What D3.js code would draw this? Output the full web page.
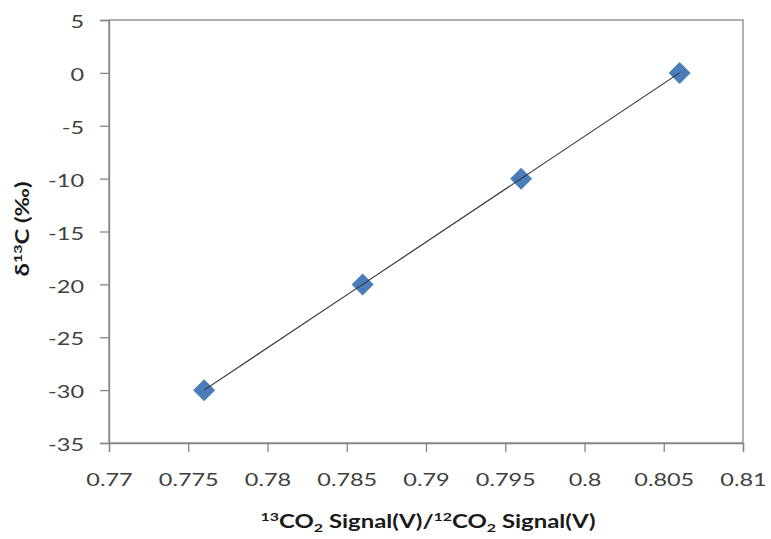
<!DOCTYPE html>
<html>
<head>
<meta charset="utf-8">
<script src="https://cdn.jsdelivr.net/npm/d3@7"></script>
<style>
  body { margin: 0; background: #fff; }
  svg { display: block; font-family: Lato, "Open Sans", sans-serif; }
</style>
</head>
<body>
<svg id="chart" width="771" height="539"></svg>
<script>
const xValues = [0.776, 0.786, 0.796, 0.806];
const yValues = [-30, -20, -10, 0];
const xTicks = [0.77, 0.775, 0.78, 0.785, 0.79, 0.795, 0.8, 0.805, 0.81];
const yTicks = [-35, -30, -25, -20, -15, -10, -5, 0, 5];

const svg = d3.select("#chart");
const m = { left: 109, right: 743, top: 20, bottom: 443 };
const x = d3.scaleLinear().domain([0.77, 0.81]).range([m.left, m.right]);
const y = d3.scaleLinear().domain([-35, 5]).range([m.bottom, m.top]);
const axisColor = "#868686";
const textColor = "#404040";
const sx = 1.38;

// plot border
svg.append("rect")
  .attr("x", m.left).attr("y", m.top)
  .attr("width", m.right - m.left).attr("height", m.bottom - m.top)
  .attr("fill", "none").attr("stroke", axisColor).attr("stroke-width", 1.3);

const yAxis = svg.append("g")
  .attr("transform", `translate(${m.left},0)`)
  .call(d3.axisLeft(y).tickValues(yTicks).tickSize(9).tickPadding(16).tickFormat(d => String(d)));
const xAxis = svg.append("g")
  .attr("transform", `translate(0,${m.bottom})`)
  .call(d3.axisBottom(x).tickValues(xTicks).tickSize(9).tickPadding(22).tickFormat(d => String(+d.toFixed(3))));

[xAxis, yAxis].forEach(g => {
  g.select(".domain").attr("stroke", axisColor).attr("stroke-width", 1.3);
  g.selectAll(".tick line").attr("stroke", axisColor).attr("stroke-width", 1.3);
  g.selectAll(".tick text").attr("fill", textColor).style("font-size", "17px").style("font-family", "Lato, 'Open Sans', sans-serif");
});
xAxis.selectAll(".tick text").attr("transform", `scale(${sx},1)`);
yAxis.selectAll(".tick text").attr("x", 0).attr("dy", "0.45em").attr("transform", `translate(-25,0) scale(${sx},1)`);

const pts = xValues.map((v, i) => [v, yValues[i]]);

// markers
svg.append("g").selectAll("path").data(pts).join("path")
  .attr("transform", d => `translate(${x(d[0])},${y(d[1])})`)
  .attr("d", "M0,-11L11,0L0,11L-11,0Z")
  .attr("fill", "#4a7ebb");

// line
svg.append("path")
  .datum(pts)
  .attr("d", d3.line().x(d => x(d[0])).y(d => y(d[1])))
  .attr("fill", "none").attr("stroke", "#333333").attr("stroke-width", 1.2);

// x title
const xt = svg.append("text")
  .attr("transform", `translate(428,528) scale(1.33,1)`)
  .attr("text-anchor", "middle")
  .attr("fill", "#1a1a1a")
  .style("font-size", "18px").style("font-weight", "bold");
xt.append("tspan").text("13").attr("dy", "-7").style("font-size", "12px");
xt.append("tspan").text("CO").attr("dy", "7");
xt.append("tspan").text("2").attr("dy", "4").style("font-size", "12px");
xt.append("tspan").text(" Signal(V)/").attr("dy", "-4");
xt.append("tspan").text("12").attr("dy", "-7").style("font-size", "12px");
xt.append("tspan").text("CO").attr("dy", "7");
xt.append("tspan").text("2").attr("dy", "4").style("font-size", "12px");
xt.append("tspan").text(" Signal(V)").attr("dy", "-4");

// y title
const yt = svg.append("text")
  .attr("transform", "translate(29,229) rotate(-90) scale(1.33,1)")
  .attr("text-anchor", "middle")
  .attr("fill", "#1a1a1a")
  .style("font-size", "18px").style("font-weight", "bold");
yt.append("tspan").text("δ");
yt.append("tspan").text("13").attr("dy", "-7").style("font-size", "12px");
yt.append("tspan").text("C (‰)").attr("dy", "7");
</script>
</body>
</html>
